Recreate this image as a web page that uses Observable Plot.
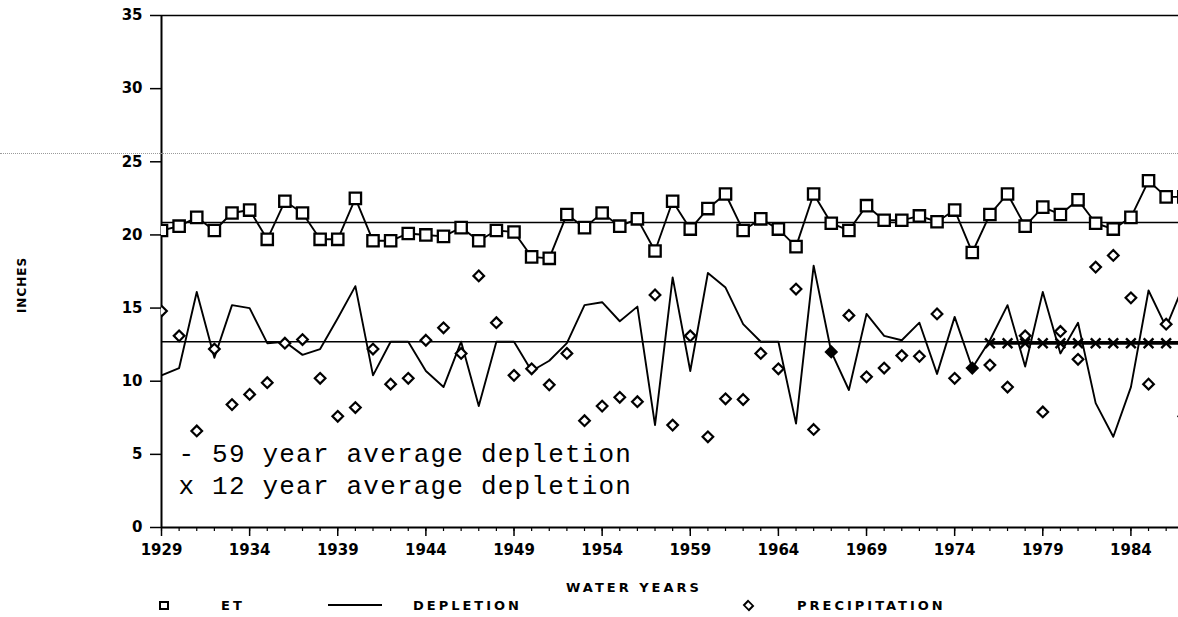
<!DOCTYPE html>
<html>
<head>
<meta charset="utf-8">
<script src="https://cdn.jsdelivr.net/npm/d3@7"></script>
<script src="https://cdn.jsdelivr.net/npm/@observablehq/plot@0.6"></script>
<style>
  html, body { margin: 0; padding: 0; background: #fff; overflow: hidden; }
  #wrap { position: relative; width: 1178px; height: 617px; background: #fff; }
  .lbl { position: absolute; font-family: "DejaVu Sans", sans-serif; font-weight: bold; color: #000; line-height: 13px; white-space: nowrap; }
  .lg { font-size: 13px; letter-spacing: 3px; top: 599px; }
  #xlabel { font-size: 13px; letter-spacing: 3px; top: 581px; left: 634px; transform: translateX(-50%); }
  #ylabel { font-size: 12px; letter-spacing: 1px; left: 22px; top: 285px; transform: translate(-50%, -50%) rotate(-90deg); }
  .sq { position: absolute; left: 159px; top: 601px; width: 6px; height: 5px; border: 2.5px solid #000; background: #fff; }
  .ln { position: absolute; left: 328px; top: 604px; width: 54px; height: 0; border-top: 2px solid #000; }
  .dm { position: absolute; left: 744px; top: 601px; width: 5px; height: 5px; border: 2px solid #000; transform: rotate(45deg) scaleY(0.85); background: #fff; }
  #scan { position: absolute; left: 0; top: 153px; width: 1178px; height: 0; border-top: 1px dotted #9a9a9a; pointer-events: none; }
</style>
</head>
<body>
<div id="wrap">
  <div id="chart"></div>
  <div id="scan"></div>
  <div id="ylabel" class="lbl"></div>
  <div id="xlabel" class="lbl"></div>
  <div class="sq"></div>
  <div id="lg-et" class="lbl lg" style="left:221px"></div>
  <div class="ln"></div>
  <div id="lg-dep" class="lbl lg" style="left:413px"></div>
  <div class="dm"></div>
  <div id="lg-pre" class="lbl lg" style="left:797px"></div>
</div>
<script>
// ---- data ----
const years = d3.range(1929, 1988);

const et = [
  20.3, 20.6, 21.2, 20.3, 21.5, 21.7, 19.7, 22.3, 21.5, 19.7,
  19.7, 22.5, 19.6, 19.6, 20.1, 20.0, 19.9, 20.5, 19.6, 20.3,
  20.2, 18.5, 18.4, 21.4, 20.5, 21.5, 20.6, 21.1, 18.9, 22.3,
  20.4, 21.8, 22.8, 20.3, 21.1, 20.4, 19.2, 22.8, 20.8, 20.3,
  22.0, 21.0, 21.0, 21.3, 20.9, 21.7, 18.8, 21.4, 22.8, 20.6,
  21.9, 21.4, 22.4, 20.8, 20.4, 21.2, 23.7, 22.6, 22.6
];

const depletion = [
  10.4, 10.9, 16.1, 11.6, 15.2, 15.0, 12.6, 12.7, 11.8, 12.2,
  14.3, 16.5, 10.4, 12.7, 12.7, 10.7, 9.6, 12.7, 8.3, 12.7,
  12.7, 10.7, 11.4, 12.6, 15.2, 15.4, 14.1, 15.1, 7.0, 17.1,
  10.7, 17.4, 16.4, 13.9, 12.7, 12.7, 7.1, 17.9, 12.0, 9.4,
  14.6, 13.1, 12.8, 14.0, 10.5, 14.4, 10.9, 12.8, 15.2, 11.0,
  16.1, 11.9, 14.0, 8.5, 6.2, 9.6, 16.2, 13.7, 16.6
];

const precipitation = [
  14.8, 13.1, 6.6, 12.2, 8.4, 9.1, 9.9, 12.6, 12.85, 10.2,
  7.6, 8.2, 12.2, 9.8, 10.2, 12.8, 13.65, 11.9, 17.2, 14.0,
  10.4, 10.85, 9.75, 11.9, 7.3, 8.3, 8.9, 8.6, 15.9, 7.0,
  13.1, 6.2, 8.8, 8.75, 11.9, 10.85, 16.3, 6.7, 12.0, 14.5,
  10.3, 10.9, 11.75, 11.7, 14.6, 10.2, 10.9, 11.1, 9.6, 13.1,
  7.9, 13.4, 11.5, 17.8, 18.6, 15.7, 9.8, 13.9, 7.6
];

const filledPrecipYears = [1967, 1975];
const etAverage = 20.85;
const depletionAverage59 = 12.7;
const avg12Years = [1976, 1977, 1978, 1979, 1980, 1981, 1982, 1983, 1984, 1985, 1986, 1987];
const depletionAverage12 = 12.6;

const yTicks = [0, 5, 10, 15, 20, 25, 30, 35];
const xTickYears = [1929, 1934, 1939, 1944, 1949, 1954, 1959, 1964, 1969, 1974, 1979, 1984];
const annotations = ["- 59 year average depletion", "x 12 year average depletion"];
const yLabel = "INCHES";
const xLabel = "WATER YEARS";
const legendLabels = ["ET", "DEPLETION", "PRECIPITATION"];

// ---- build ----
const rows = years.map((year, i) => ({year, et: et[i], depletion: depletion[i], precipitation: precipitation[i]}));
const avg12 = avg12Years.map(year => ({year, value: depletionAverage12}));

const chart = Plot.plot({
  width: 1178,
  height: 566,
  marginLeft: 161,
  marginRight: 0,
  marginTop: 15,
  marginBottom: 39,
  x: {domain: [1929, 1986.7], axis: null},
  y: {domain: [0, 35], axis: null},
  style: {fontFamily: "DejaVu Sans, sans-serif", fontSize: "15px", fontWeight: "bold", color: "black", background: "white"},
  marks: [
    Plot.axisY({ticks: yTicks, tickSize: 11, tickPadding: 8, tickFormat: d => String(d), label: null, fontSize: 15, fontWeight: "bold", strokeWidth: 1.5}),
    Plot.axisX({ticks: years, tickSize: 4, tickFormat: () => "", label: null, strokeWidth: 1.2}),
    Plot.axisX({ticks: xTickYears, tickSize: 9, tickPadding: 8, tickFormat: d => String(d), label: null, fontSize: 15, fontWeight: "bold", strokeWidth: 1.5}),
    Plot.ruleX([1929], {stroke: "black", strokeWidth: 2}),
    Plot.ruleY([0], {stroke: "black", strokeWidth: 2}),
    Plot.ruleY([35], {stroke: "black", strokeWidth: 1.5}),
    Plot.ruleY([etAverage], {stroke: "black", strokeWidth: 1.6}),
    Plot.ruleY([depletionAverage59], {stroke: "black", strokeWidth: 1.6}),
    Plot.line(rows, {x: "year", y: "depletion", stroke: "black", strokeWidth: 1.9, clip: true}),
    Plot.line(rows, {x: "year", y: "et", stroke: "black", strokeWidth: 1.9, clip: true}),
    Plot.line(avg12, {x: "year", y: "value", stroke: "black", strokeWidth: 3.2, clip: true}),
    Plot.dot(avg12, {x: "year", y: "value", symbol: "times", r: 4.5, stroke: "black", strokeWidth: 2.4, clip: true}),
    Plot.dot(rows, {x: "year", y: "et", symbol: "square", r: 6.4, fill: "white", stroke: "black", strokeWidth: 2.3, clip: true}),
    Plot.dot(rows, {x: "year", y: "precipitation", symbol: "diamond2", r: 4.8,
      fill: d => filledPrecipYears.includes(d.year) ? "black" : "white",
      stroke: "black", strokeWidth: 2.2, clip: true}),
    Plot.text([annotations[0]], {text: d => d, frameAnchor: "bottom-left", textAnchor: "start", lineAnchor: "middle",
      dx: 17, dy: -74, fontFamily: "Liberation Mono, monospace", fontSize: 26, fontWeight: "normal", fill: "black"}),
    Plot.text([annotations[1]], {text: d => d, frameAnchor: "bottom-left", textAnchor: "start", lineAnchor: "middle",
      dx: 17, dy: -42, fontFamily: "Liberation Mono, monospace", fontSize: 26, fontWeight: "normal", fill: "black"})
  ]
});

document.getElementById("chart").appendChild(chart);
d3.select(chart).selectAll('g[font-family^="Liberation Mono"] text').style("letter-spacing", "1.2px");

document.getElementById("ylabel").textContent = yLabel;
document.getElementById("xlabel").textContent = xLabel;
document.getElementById("lg-et").textContent = legendLabels[0];
document.getElementById("lg-dep").textContent = legendLabels[1];
document.getElementById("lg-pre").textContent = legendLabels[2];
</script>
</body>
</html>
